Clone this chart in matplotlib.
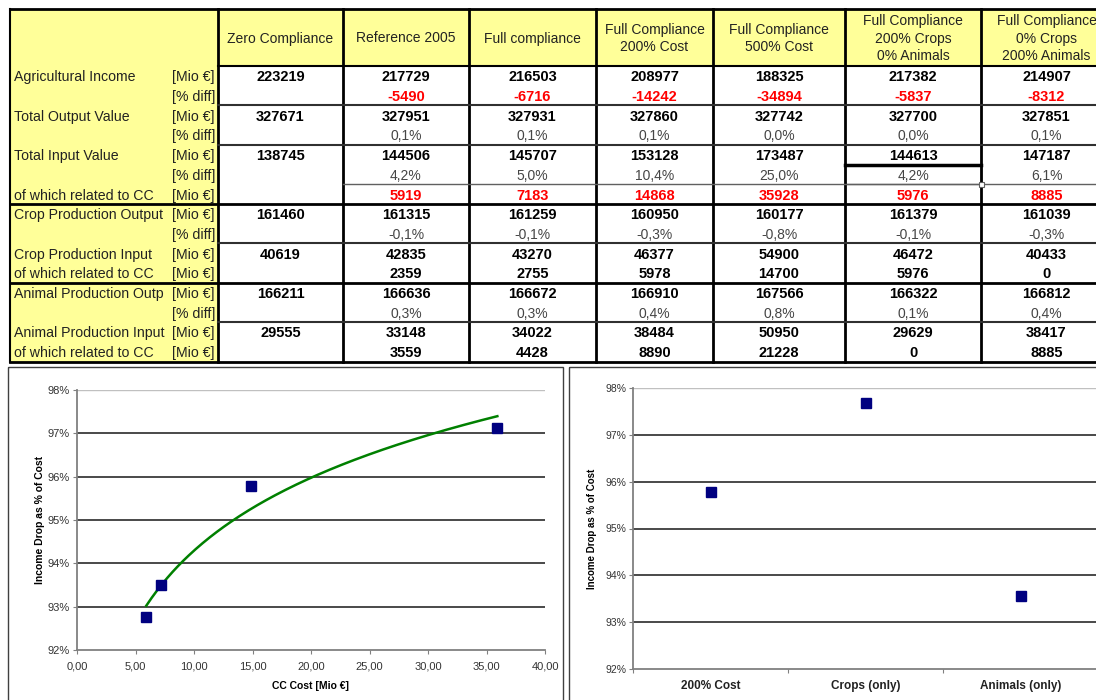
import numpy as np
import matplotlib.pyplot as plt
from matplotlib.patches import Rectangle

plt.rcParams['font.family'] = ['Liberation Sans', 'DejaVu Sans']

# scenario columns of the table
scenarios = ["Zero Compliance", "Reference 2005", "Full compliance",
             "Full Compliance\n200% Cost", "Full Compliance\n500% Cost",
             "Full Compliance\n200% Crops\n0% Animals",
             "Full Compliance\n0% Crops\n200% Animals"]

row_names = ["Agricultural Income", "", "Total Output Value", "", "Total Input Value", "",
             "of which related to CC", "Crop Production Output", "", "Crop Production Input",
             "of which related to CC", "Animal Production Outp", "", "Animal Production Input",
             "of which related to CC"]
row_units = ["[Mio €]", "[% diff]", "[Mio €]", "[% diff]", "[Mio €]", "[% diff]", "[Mio €]",
             "[Mio €]", "[% diff]", "[Mio €]", "[Mio €]", "[Mio €]", "[% diff]", "[Mio €]",
             "[Mio €]"]

agri_income = [223219, 217729, 216503, 208977, 188325, 217382, 214907]
agri_income_diff = [None, -5490, -6716, -14242, -34894, -5837, -8312]
total_output = [327671, 327951, 327931, 327860, 327742, 327700, 327851]
total_output_pct = [None, 0.1, 0.1, 0.1, 0.0, 0.0, 0.1]
total_input = [138745, 144506, 145707, 153128, 173487, 144613, 147187]
total_input_pct = [None, 4.2, 5.0, 10.4, 25.0, 4.2, 6.1]
input_cc = [None, 5919, 7183, 14868, 35928, 5976, 8885]
crop_output = [161460, 161315, 161259, 160950, 160177, 161379, 161039]
crop_output_pct = [None, -0.1, -0.1, -0.3, -0.8, -0.1, -0.3]
crop_input = [40619, 42835, 43270, 46377, 54900, 46472, 40433]
crop_input_cc = [None, 2359, 2755, 5978, 14700, 5976, 0]
animal_output = [166211, 166636, 166672, 166910, 167566, 166322, 166812]
animal_output_pct = [None, 0.3, 0.3, 0.4, 0.8, 0.1, 0.4]
animal_input = [29555, 33148, 34022, 38484, 50950, 29629, 38417]
animal_input_cc = [None, 3559, 4428, 8890, 21228, 0, 8885]

table_rows = [(agri_income, 'b'), (agri_income_diff, 'r'), (total_output, 'b'),
              (total_output_pct, 'p'), (total_input, 'b'), (total_input_pct, 'p'),
              (input_cc, 'r'), (crop_output, 'b'), (crop_output_pct, 'p'),
              (crop_input, 'b'), (crop_input_cc, 'b'), (animal_output, 'b'),
              (animal_output_pct, 'p'), (animal_input, 'b'), (animal_input_cc, 'b')]

# chart inputs
cost_idx = [1, 2, 3, 4]
mix_idx = [3, 5, 6]
mix_labels = ["200% Cost", "Crops (only)", "Animals (only)"]

fig = plt.figure(figsize=(10.96, 7.0), dpi=100)
bg = fig.add_axes([0, 0, 1, 1])
bg.set_xlim(0, 1096)
bg.set_ylim(700, 0)
bg.axis('off')

# ---- table ----
col_x = [218, 343, 469, 596, 713, 845, 981, 1112]
left, top, head_bot, row_h = 10, 9, 66, 19.7
bottom = head_bot + row_h * len(row_names)
yellow = '#FFFF99'

bg.add_patch(Rectangle((left, top), col_x[-1] - left, head_bot - top, color=yellow, lw=0))
bg.add_patch(Rectangle((left, head_bot), col_x[0] - left, bottom - head_bot, color=yellow, lw=0))

def row_y(i):
    return head_bot + row_h * i

bg.plot([left, col_x[-1]], [top, top], color='black', lw=2)
bg.plot([left, left], [top, bottom], color='black', lw=1.5)
bg.plot([col_x[0], col_x[-1]], [head_bot, head_bot], color='black', lw=1.5)
for x in col_x:
    bg.plot([x, x], [top, bottom], color='black', lw=2)
for r in [2, 4, 9, 13]:
    bg.plot([col_x[0], col_x[-1]], [row_y(r), row_y(r)], color='#303030', lw=1.5)
bg.plot([col_x[1], col_x[-1]], [row_y(6), row_y(6)], color='#606060', lw=1)
for r in [7, 11, 15]:
    bg.plot([left, col_x[-1]], [row_y(r), row_y(r)], color='black', lw=2)

# excel selection on one cell
bg.add_patch(Rectangle((col_x[5], row_y(5)), col_x[6] - col_x[5], row_h,
                       fill=False, ec='#707070', lw=1))
bg.plot([col_x[5], col_x[6]], [row_y(5), row_y(5)], color='black', lw=2.5)
bg.add_patch(Rectangle((col_x[6] - 2.5, row_y(6) - 2.5), 5, 5, fc='white', ec='#606060', lw=0.8, zorder=5))

for i, (name, unit) in enumerate(zip(row_names, row_units)):
    yc = row_y(i) + row_h / 2 + 1.5
    bg.text(14, yc, name, ha='left', va='center', fontsize=10.2, color='#222222')
    bg.text(215, yc, unit, ha='right', va='center', fontsize=10.2, color='#222222')

for j, lab in enumerate(scenarios):
    xc = (col_x[j] + col_x[j + 1]) / 2
    bg.text(xc, (top + head_bot) / 2 + 1, lab, ha='center', va='center', fontsize=10,
            color='#222222', linespacing=1.3, multialignment='center')

for i, (vals, kind) in enumerate(table_rows):
    yc = row_y(i) + row_h / 2 + 1.5
    for j, v in enumerate(vals):
        if v is None:
            continue
        xc = (col_x[j] + col_x[j + 1]) / 2
        if kind == 'p':
            bg.text(xc, yc, f"{v:.1f}%".replace('.', ','), ha='center', va='center',
                    fontsize=10, color='#454545')
        else:
            bg.text(xc, yc, str(v), ha='center', va='center', fontsize=10.5,
                    fontweight='bold', color='red' if kind == 'r' else 'black')

# chart frames
bg.add_patch(Rectangle((8, 367), 555, 345, fill=False, ec='#404040', lw=1))
bg.add_patch(Rectangle((569, 367), 540, 345, fill=False, ec='#404040', lw=1))

yticks = [92, 93, 94, 95, 96, 97, 98]

def style_axis(ax, size):
    ax.set_ylim(92, 98)
    ax.set_yticks(yticks)
    ax.set_yticklabels([f"{t}%" for t in yticks])
    for t in yticks[1:-1]:
        ax.axhline(t, color='#3a3a3a', lw=1.3, zorder=1)
    ax.axhline(98, color='#c0c0c0', lw=1, zorder=1)
    for s in ['top', 'right']:
        ax.spines[s].set_visible(False)
    for s in ['left', 'bottom']:
        ax.spines[s].set_color('#808080')
        ax.spines[s].set_linewidth(1.3)
    ax.tick_params(direction='out', length=3, pad=2, color='#808080', labelsize=size,
                   labelcolor='#333333')
    ax.set_facecolor('none')

# ---- left chart ----
ax1 = fig.add_axes([77 / 1096, 50 / 700, 468 / 1096, 260 / 700])
cc = np.array([input_cc[i] for i in cost_idx], dtype=float)
drop = -np.array([agri_income_diff[i] for i in cost_idx], dtype=float)
x1 = cc / 1000
y1 = drop / cc * 100
coef = np.polyfit(np.log(x1), y1, 1)
xs = np.linspace(x1.min(), x1.max(), 200)
style_axis(ax1, 8)
ax1.tick_params(axis='x', pad=5)
ax1.set_xlim(0, 40)
xt = np.arange(0, 45, 5)
ax1.set_xticks(xt)
ax1.set_xticklabels([f"{t:.2f}".replace('.', ',') for t in xt])
ax1.plot(xs, coef[0] * np.log(xs) + coef[1], color='#008000', lw=1.8, zorder=3)
ax1.plot(x1, y1, 's', color='#000080', ms=6.5, zorder=4, clip_on=False)
ax1.set_ylabel("Income Drop as % of Cost", fontsize=7.5, fontweight='bold')
ax1.yaxis.set_label_coords(-0.069, 0.5)
ax1.set_xlabel("CC Cost [Mio €]", fontsize=7.5, fontweight='bold')
ax1.xaxis.set_label_coords(0.5, -0.119)

# ---- right chart ----
ax2 = fig.add_axes([633 / 1096, 31 / 700, 465 / 1096, 281 / 700])
y2 = [-agri_income_diff[i] / input_cc[i] * 100 for i in mix_idx]
style_axis(ax2, 7.5)
ax2.set_xlim(0, 3)
ax2.set_xticks([0, 1, 2, 3])
ax2.set_xticklabels([])
ax2.set_xticks([0.5, 1.5, 2.5], minor=True)
ax2.set_xticklabels(mix_labels, minor=True, fontsize=8.5, fontweight='bold')
ax2.tick_params(axis='x', which='minor', length=0, pad=8, labelcolor='#222222')
ax2.plot([0.5, 1.5, 2.5], y2, 's', color='#000080', ms=6.5, zorder=4)
ax2.set_ylabel("Income Drop as % of Cost", fontsize=7, fontweight='bold')
ax2.yaxis.set_label_coords(-0.078, 0.5)

fig.savefig("out.png", dpi=100)
